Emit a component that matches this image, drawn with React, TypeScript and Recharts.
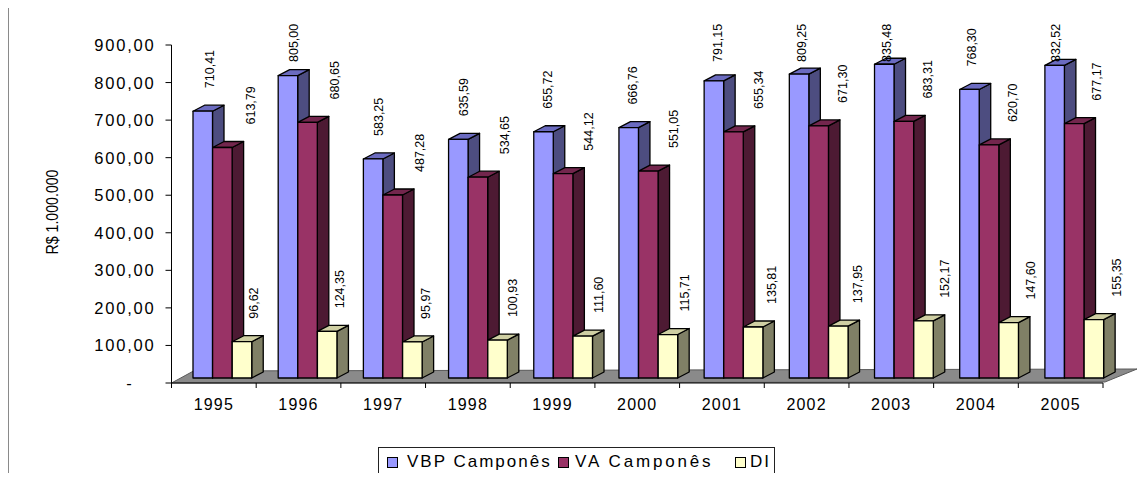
import React from 'react';
import { BarChart, Bar, XAxis, YAxis, LabelList, ReferenceArea } from 'recharts';

const years = ['1995', '1996', '1997', '1998', '1999', '2000', '2001', '2002', '2003', '2004', '2005'];
const vbpValues = [710.41, 805.0, 583.25, 635.59, 655.72, 666.76, 791.15, 809.25, 835.48, 768.3, 832.52];
const vaValues = [613.79, 680.65, 487.28, 534.65, 544.12, 551.05, 655.34, 671.3, 683.31, 620.7, 677.17];
const diValues = [96.62, 124.35, 95.97, 100.93, 111.6, 115.71, 135.81, 137.95, 152.17, 147.6, 155.35];
const seriesKeys = ['vbp', 'va', 'di'];
const seriesNames = ['VBP Camponês', 'VA Camponês', 'DI'];
const yTicks = [0, 100, 200, 300, 400, 500, 600, 700, 800, 900];
const yAxisTitle = 'R$ 1.000.000';

const data = years.map((year, i) => ({ year, vbp: vbpValues[i], va: vaValues[i], di: diValues[i] }));

const W = 1146;
const H = 481;
const MARGIN = { top: 45, right: 43, bottom: 68, left: 71.5 };
const Y_AXIS_W = 100;
const X_AXIS_H = 30;
const PLOT_LEFT = MARGIN.left + Y_AXIS_W;
const PLOT_RIGHT = W - MARGIN.right;
const PLOT_BOTTOM = H - MARGIN.bottom - X_AXIS_H;
const BAND = (PLOT_RIGHT - PLOT_LEFT) / years.length;
const FONT = "'Liberation Sans', Arial, sans-serif";

const COLORS = {
  vbp: { front: '#9999FF', side: '#4D4D80', top: '#6B6BC0' },
  va: { front: '#993366', side: '#4D1A33', top: '#73264D' },
  di: { front: '#FFFFCC', side: '#808066', top: '#CFCFA3' },
};

const DEPTH_X = 11.5;
const DEPTH_Y = 6;
const LIFT = 5;
const perspectiveDx = (x: number) => 8.5 + 0.006 * (x - (PLOT_LEFT + 13));

const fmt = (v: number) => v.toFixed(2).replace('.', ',');

const makeShape = (key: string) => (props: any) => {
  const { x, y, width, height } = props;
  if (width == null || height == null) return null;
  const c = (COLORS as any)[key];
  const X = x + perspectiveDx(x);
  const Y = y - LIFT;
  const R = X + width;
  const B = Y + height;
  return (
    <g stroke="#000" strokeWidth={1.3} strokeLinejoin="round">
      <polygon points={`${R},${Y} ${R + DEPTH_X},${Y - DEPTH_Y} ${R + DEPTH_X},${B - DEPTH_Y} ${R},${B}`} fill={c.side} />
      <polygon points={`${X},${Y} ${X + DEPTH_X},${Y - DEPTH_Y} ${R + DEPTH_X},${Y - DEPTH_Y} ${R},${Y}`} fill={c.top} />
      <rect x={X} y={Y} width={width} height={height} fill={c.front} />
    </g>
  );
};

const labelCenter = (key: string, x: number) => {
  if (key === 'vbp') return x + 25;
  if (key === 'va') return x + 46.5;
  return x + 30 + 0.02 * (x - (PLOT_LEFT + 52));
};

const makeLabel = (key: string) => (props: any) => {
  const { x, y, value } = props;
  if (value == null) return null;
  const cx = labelCenter(key, x);
  const bottom = Math.max(y - 28, 62);
  return (
    <text
      transform={`translate(${cx},${bottom}) rotate(-90)`}
      x={0}
      y={0}
      textAnchor="start"
      dominantBaseline="central"
      fontSize={12.5}
      fontFamily={FONT}
      fill="#000"
    >
      {fmt(value)}
    </text>
  );
};

const YTick = (props: any) => {
  const { x, y, payload } = props;
  const v = payload.value;
  return (
    <text
      x={v === 0 ? x - 22 : x}
      y={y}
      textAnchor="end"
      dominantBaseline="central"
      fontSize={16.5}
      letterSpacing={1.8}
      fontFamily={FONT}
      fill="#000"
    >
      {v === 0 ? '-' : fmt(v)}
    </text>
  );
};

const XTick = (props: any) => {
  const { x, payload, index } = props;
  return (
    <g>
      <text x={x} y={PLOT_BOTTOM + 27} textAnchor="middle" fontSize={16} letterSpacing={1.2} fontFamily={FONT} fill="#000">
        {payload.value}
      </text>
      <line x1={x + BAND / 2} x2={x + BAND / 2} y1={PLOT_BOTTOM} y2={PLOT_BOTTOM + 5} stroke="#000" />
      {index === 0 && <line x1={x - BAND / 2} x2={x - BAND / 2} y1={PLOT_BOTTOM} y2={PLOT_BOTTOM + 5} stroke="#000" />}
    </g>
  );
};

const FloorShape = (props: any) => {
  const { x, y, width, height } = props;
  const b = y + height;
  const r = x + width;
  return (
    <polygon
      points={`${x},${b} ${r + 2},${b - 1} ${r + 34},${b - 14} ${x + 22},${b - 12}`}
      fill="#8A8A8A"
      stroke="#5A5A5A"
      strokeWidth={1}
    />
  );
};

const YLabel = (props: any) => {
  const vb = props.viewBox || { x: MARGIN.left, y: MARGIN.top, width: Y_AXIS_W, height: PLOT_BOTTOM - MARGIN.top };
  return (
    <text
      transform={`translate(${vb.x - 19.5},${vb.y + vb.height / 2 - 2}) rotate(-90)`}
      textAnchor="middle"
      dominantBaseline="central"
      fontSize={17}
      textLength={85}
      lengthAdjust="spacingAndGlyphs"
      fontFamily={FONT}
      fill="#000"
    >
      {yAxisTitle}
    </text>
  );
};

const legendColors = [COLORS.vbp.front, COLORS.va.front, COLORS.di.front];
const legendItemWidths = [171, 177, 40];
const legendGaps = [9, 6, 4];
const legendSpacing = [2, 2.8, 2];

export default function App() {
  return (
    <div style={{ position: 'relative', width: W, height: H, margin: -8, overflow: 'hidden', background: '#fff' }}>
      <div
        style={{
          position: 'absolute',
          left: 8,
          top: 6,
          width: W,
          height: H,
          borderLeft: '1.5px solid #8a8a8a',
          borderTop: '1.5px solid #8a8a8a',
        }}
      />
      <div style={{ position: 'absolute', left: 0, top: 0 }}>
        <BarChart width={W} height={H} data={data} margin={MARGIN} barGap={0} barSize={19.5}>
          <ReferenceArea y1={0} y2={900} ifOverflow="visible" shape={<FloorShape />} />
          <XAxis
            dataKey="year"
            height={X_AXIS_H}
            tickLine={false}
            tickSize={0}
            axisLine={{ stroke: '#000' }}
            tick={<XTick />}
            interval={0}
          />
          <YAxis
            width={Y_AXIS_W}
            domain={[0, 900]}
            ticks={yTicks}
            interval={0}
            tickSize={6}
            tickMargin={10}
            axisLine={{ stroke: '#000' }}
            tickLine={{ stroke: '#000' }}
            tick={<YTick />}
            label={<YLabel />}
          />
          {seriesKeys.map((key, i) => (
            <Bar key={key} dataKey={key} name={seriesNames[i]} isAnimationActive={false} shape={makeShape(key)}>
              <LabelList dataKey={key} content={makeLabel(key)} />
            </Bar>
          ))}
        </BarChart>
      </div>
      <div
        style={{
          position: 'absolute',
          left: 378,
          top: 447,
          width: 397,
          height: 30,
          boxSizing: 'border-box',
          border: '1px solid #222',
          background: '#fff',
          display: 'flex',
          alignItems: 'center',
          paddingLeft: 8,
          fontFamily: FONT,
          fontSize: 17,
          whiteSpace: 'nowrap',
        }}
      >
        {seriesNames.map((name, i) => (
          <div key={name} style={{ display: 'flex', alignItems: 'center', width: legendItemWidths[i], flex: 'none' }}>
            <span
              style={{
                display: 'inline-block',
                width: 9,
                height: 9,
                border: '1px solid #000',
                background: legendColors[i],
                marginRight: legendGaps[i],
                flex: 'none',
              }}
            />
            <span style={{ letterSpacing: legendSpacing[i] }}>{name}</span>
          </div>
        ))}
      </div>
    </div>
  );
}
